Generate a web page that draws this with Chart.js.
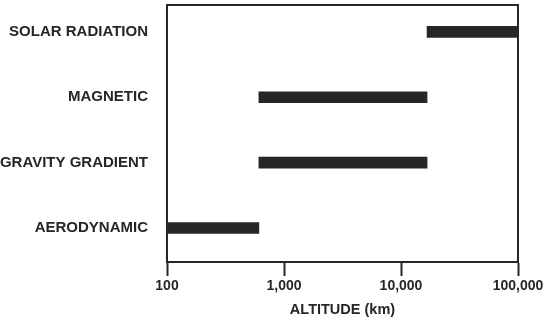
<!DOCTYPE html>
<html>
<head>
<meta charset="utf-8">
<script src="https://cdn.jsdelivr.net/npm/chart.js@4"></script>
<style>
  html, body { margin: 0; padding: 0; background: #fff; }
  #wrap { width: 546px; height: 320px; }
</style>
</head>
<body>
<div id="wrap"><canvas id="torqueChart"></canvas></div>
<script>
// disturbance torques and the altitude band where each one dominates (km)
var sources = ["SOLAR RADIATION", "MAGNETIC", "GRAVITY GRADIENT", "AERODYNAMIC"];
var bandLow = [16700, 610, 610, 100];
var bandHigh = [100000, 16700, 16700, 610];
var altTicks = [100, 1000, 10000, 100000];

var ink = "#262626";
var fontFamily = "'Liberation Sans', Arial, Helvetica, sans-serif";

// rows sit on a numeric y axis (0 = top row) so the spacing can be tuned
var bands = [];
for (var i = 0; i < sources.length; i++) {
    bands.push({ x: [bandLow[i], bandHigh[i]], y: i });
}

// box around the plot (top and right sides are not axis borders)
var frame = {
    id: 'frame',
    afterDraw: function (chart) {
        var a = chart.chartArea, ctx = chart.ctx;
        ctx.save();
        ctx.strokeStyle = ink;
        ctx.lineWidth = 2;
        ctx.strokeRect(a.left, a.top, a.right - a.left, a.bottom - a.top);
        ctx.restore();
    }
};

var chartElem = document.getElementById("torqueChart");
var torqueChart = new Chart(chartElem, {
    type: 'bar',
    data: {
        datasets: [
            {
                label: "Altitude range",
                data: bands,
                backgroundColor: ink,
                borderWidth: 0,
                borderSkipped: false,
                barThickness: 11
            }
        ]
    },
    options: {
        indexAxis: 'y',
        responsive: true,
        maintainAspectRatio: false,
        animation: false,
        layout: { padding: { top: 5, right: 28, left: 0, bottom: 0 } },
        plugins: {
            legend: { display: false },
            tooltip: { enabled: false }
        },
        scales: {
            x: {
                type: 'logarithmic',
                min: 100,
                max: 100000,
                afterFit: function (s) { s.height = 58; },
                afterBuildTicks: function (s) {
                    s.ticks = altTicks.map(function (v) { return { value: v }; });
                },
                border: { display: true, color: ink, width: 2 },
                grid: {
                    drawOnChartArea: false,
                    drawTicks: true,
                    tickLength: 14,
                    tickWidth: 2,
                    tickColor: ink
                },
                ticks: {
                    color: ink,
                    padding: 2,
                    maxRotation: 0,
                    font: { family: fontFamily, size: 14, weight: 'bold' },
                    callback: function (v) { return Number(v).toLocaleString('en-US'); }
                },
                title: {
                    display: true,
                    text: "ALTITUDE (km)",
                    color: ink,
                    padding: { top: 2, bottom: 1 },
                    font: { family: fontFamily, size: 14.5, weight: 'bold' }
                }
            },
            y: {
                type: 'linear',
                reverse: true,
                offset: false,
                min: -0.41,
                max: 3.52,
                afterFit: function (s) {
                    s.width = 167;
                    s.paddingTop = 0;
                    s.paddingBottom = 0;
                },
                afterBuildTicks: function (s) {
                    s.ticks = sources.map(function (name, k) { return { value: k }; });
                },
                border: { display: true, color: ink, width: 2 },
                grid: { display: false, drawTicks: false, offset: false },
                ticks: {
                    color: ink,
                    padding: 19,
                    font: { family: fontFamily, size: 15, weight: 'bold' },
                    callback: function (v) { return sources[v]; }
                }
            }
        }
    },
    plugins: [frame]
});
</script>
</body>
</html>
